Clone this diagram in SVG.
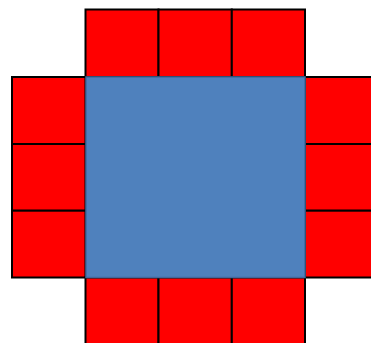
<svg xmlns="http://www.w3.org/2000/svg" width="371" height="343" viewBox="0 0 371 343">
<style>
.r{fill:#ff0000;stroke:#000;stroke-width:2}
.b{fill:#4f81bd;stroke:#41699c;stroke-width:1.5}
</style>
<rect width="371" height="343" fill="#fff"/>
<g id="top">
<rect class="r" x="85.5" y="9.5" width="73" height="67.5"/>
<rect class="r" x="158.5" y="9.5" width="73.3" height="67.5"/>
<rect class="r" x="231.8" y="9.5" width="73.2" height="67.5"/>
</g>
<g id="left">
<rect class="r" x="12" y="77" width="73.5" height="67"/>
<rect class="r" x="12" y="144" width="73.5" height="66.7"/>
<rect class="r" x="12" y="210.7" width="73.5" height="66.8"/>
</g>
<g id="right">
<rect class="r" x="305" y="77" width="73.5" height="67"/>
<rect class="r" x="305" y="144" width="73.5" height="66.7"/>
<rect class="r" x="305" y="210.7" width="73.5" height="66.8"/>
</g>
<g id="bottom">
<rect class="r" x="85.5" y="277.5" width="73" height="67"/>
<rect class="r" x="158.5" y="277.5" width="73.3" height="67"/>
<rect class="r" x="231.8" y="277.5" width="73.2" height="67"/>
</g>
<g id="center">
<rect class="b" x="86" y="77" width="219" height="200.5"/>
</g>
</svg>
